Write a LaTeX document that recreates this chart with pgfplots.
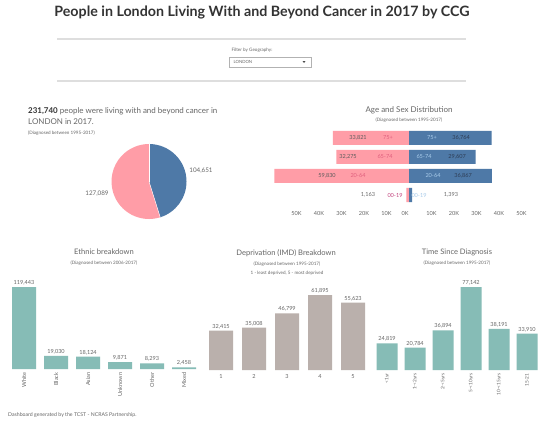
\documentclass[border=0pt]{standalone}
\usepackage{pgfplots}
\pgfplotsset{compat=1.18}
\usepackage{fontspec}
\setmainfont{Lato}
\definecolor{tteal}{HTML}{86BCB6}
\definecolor{depgray}{HTML}{BAB0AC}
\definecolor{tpink}{HTML}{FF9DA7}
\definecolor{tblue}{HTML}{4E79A7}
\definecolor{txt}{HTML}{666666}
\definecolor{ttl}{HTML}{333333}
\definecolor{pinklab}{HTML}{E0607E}
\definecolor{bluelab}{HTML}{A8CBEA}
\definecolor{bluenum}{HTML}{2E3D55}
\pgfplotsset{
  barchart/.style={
    scale only axis, ybar, clip=false,
    axis line style={draw=none}, ytick=\empty, xtick=data,
    major tick length=0pt, enlargelimits=false, ymin=0,
    nodes near coords,
    every node near coord/.append style={font=\fontsize{5.6}{6}\selectfont, text=txt, inner sep=1.5bp},
    /pgf/number format/.cd, fixed, precision=0, 1000 sep={,}, assume math mode=true,
    /pgfplots/.cd,
    xticklabel style={font=\fontsize{5.6}{6}\selectfont, text=txt},
  }
}
\begin{document}
\begin{tikzpicture}[x=1bp,y=1bp]
\useasboundingbox (0,0) rectangle (549,430);
\fill[white] (0,0) rectangle (549,430);
% title
\node[text=ttl, font=\fontsize{14.3}{16}\selectfont\bfseries] at (262,418) {People in London Living With and Beyond Cancer in 2017 by CCG};
\draw[black!13, line width=1.2bp] (57,391) -- (466,391);
\draw[black!13, line width=1.2bp] (57,349) -- (466,349);
\node[anchor=west, text=txt, font=\fontsize{4.6}{5}\selectfont] at (228,380) {Filter by Geography:};
\draw[black!30, line width=0.5bp] (229,373) rectangle (311,363);
\node[anchor=west, text=txt, font=\fontsize{4.3}{5}\selectfont] at (230,368) {LONDON};
\fill[black!70] (302.5,369) -- (305.5,369) -- (304,367) -- cycle;

% summary text
\node[anchor=west, text=txt, font=\fontsize{8}{9}\selectfont, inner sep=0] at (28,319) {\textbf{\color{ttl}231,740} people were living with and beyond cancer in};
\node[anchor=west, text=txt, font=\fontsize{8}{9}\selectfont, inner sep=0] at (28,308.5) {LONDON in 2017.};
\node[anchor=west, text=txt, font=\fontsize{4.6}{5}\selectfont, inner sep=0] at (28,297) {(Diagnosed between 1995-2017)};

% pie
\pgfmathsetmacro{\blueang}{104.651/(104.651+127.089)*360}
\begin{axis}[at={(149bp,248.5bp)}, anchor=center, scale only axis, width=75bp, height=75bp, hide axis, xmin=-1,xmax=1,ymin=-1,ymax=1, clip=false]
\fill[tblue] (axis cs:0,0) -- ++(90:37.5bp) arc[start angle=90, delta angle=-\blueang, radius=37.5bp] -- cycle;
\fill[tpink] (axis cs:0,0) -- ++(90-\blueang:37.5bp) arc[start angle=90-\blueang, end angle=-270, radius=37.5bp] -- cycle;
\draw[white, line width=0.4bp] (axis cs:0,0) -- ++(90:37.5bp);
\draw[white, line width=0.4bp] (axis cs:0,0) -- ++(90-\blueang:37.5bp);
\end{axis}
\node[text=txt, font=\fontsize{6.3}{7}\selectfont] at (201,259) {104,651};
\node[text=txt, font=\fontsize{6.3}{7}\selectfont] at (97,236) {127,089};

% age and sex
\node[text=txt, font=\fontsize{8}{9}\selectfont] at (409,320) {Age and Sex Distribution};
\node[text=txt, font=\fontsize{4.6}{5}\selectfont] at (409,309.5) {(Diagnosed between 1995-2017)};
\begin{axis}[at={(409bp,225.5bp)}, anchor=south, scale only axis, width=279bp, height=76bp,
  xbar, bar width=14bp, bar shift=0pt, clip=false,
  xmin=-62000, xmax=62000, ymin=-0.5, ymax=3.5,
  axis line style={draw=none}, ytick=\empty, major tick length=0pt,
  scaled x ticks=false,
  xtick={-50000,-40000,-30000,-20000,-10000,10000,20000,30000,40000,50000},
  xticklabels={50K,40K,30K,20K,10K,10K,20K,30K,40K,50K},
  extra x ticks={0}, extra x tick labels={0K},
  extra x tick style={xticklabel style={xshift=-4bp}},
  xticklabel style={font=\fontsize{5.6}{6}\selectfont, text=txt, yshift=-3bp}]
\addplot[fill=tpink, draw=none] coordinates {(-1163,0) (-59830,1) (-32275,2) (-33821,3)};
\addplot[fill=tblue, draw=none] coordinates {(1393,0) (36867,1) (29607,2) (36764,3)};
\begin{scope}[every node/.style={font=\fontsize{5.6}{6}\selectfont}]
\node[text=ttl!80] at (axis cs:-22667,3) {33,821};
\node[text=ttl!80] at (axis cs:-27111,2) {32,275};
\node[text=ttl!80] at (axis cs:-36444,1) {59,830};
\node[text=txt] at (axis cs:-18222,0) {1,163};
\node[text=pinklab] at (axis cs:-9333,3) {75+};
\node[text=pinklab] at (axis cs:-10667,2) {65-74};
\node[text=pinklab] at (axis cs:-22667,1) {20-64};
\node[text=pinklab!70!violet] at (axis cs:-6222,0) {00-19};
\node[text=bluelab] at (axis cs:10222,3) {75+};
\node[text=bluelab] at (axis cs:6667,2) {65-74};
\node[text=bluelab] at (axis cs:10667,1) {20-64};
\node[text=bluelab] at (axis cs:4444,0) {00-19};
\node[text=bluenum] at (axis cs:23111,3) {36,764};
\node[text=bluenum] at (axis cs:21333,2) {29,607};
\node[text=bluenum] at (axis cs:24000,1) {36,867};
\node[text=txt] at (axis cs:18667,0) {1,393};
\end{scope}
\end{axis}

% ethnic
\node[text=txt, font=\fontsize{7.6}{9}\selectfont] at (104,178) {Ethnic breakdown};
\node[text=txt, font=\fontsize{4.6}{5}\selectfont] at (104,166.5) {(Diagnosed between 2006-2017)};
\begin{axis}[barchart, at={(8bp,61bp)}, anchor=south west, width=192bp, height=90bp,
  bar width=24bp, xmin=-0.5, xmax=5.5, ymax=131096,
  xticklabels={White,Black,Asian,Unknown,Other,Mixed},
  xticklabel style={rotate=90, anchor=east}]
\addplot[fill=tteal, draw=none] coordinates {(0,119443) (1,19030) (2,18124) (3,9871) (4,8293) (5,2458)};
\end{axis}

% deprivation
\node[text=txt, font=\fontsize{7.6}{9}\selectfont] at (286,177) {Deprivation (IMD) Breakdown};
\node[text=txt, font=\fontsize{4.6}{5}\selectfont] at (287,166) {(Diagnosed between 1995-2017)};
\node[text=txt, font=\fontsize{4.6}{5}\selectfont] at (287,157) {1 - least deprived, 5 - most deprived};
\begin{axis}[barchart, at={(204.5bp,60bp)}, anchor=south west, width=165bp, height=85bp,
  bar width=24bp, xmin=0.5, xmax=5.5, ymax=70148,
  xticklabels={1,2,3,4,5}, xticklabel style={yshift=-1bp}]
\addplot[fill=depgray, draw=none] coordinates {(1,32415) (2,35008) (3,46799) (4,61895) (5,55623)};
\end{axis}

% time since diagnosis
\node[text=txt, font=\fontsize{7.6}{9}\selectfont] at (457,178) {Time Since Diagnosis};
\node[text=txt, font=\fontsize{4.6}{5}\selectfont] at (457,166.5) {(Diagnosed between 1995-2017)};
\begin{axis}[barchart, at={(373bp,60bp)}, anchor=south west, width=168bp, height=90bp,
  bar width=21bp, xmin=-0.5, xmax=5.5, ymax=83648,
  xticklabels={<1yr,1-<2yrs,2-<5yrs,5-<10yrs,10-<15yrs,15-21},
  xticklabel style={rotate=90, anchor=east, font=\fontsize{4.8}{5}\selectfont}]
\addplot[fill=tteal, draw=none] coordinates {(0,24819) (1,20784) (2,36894) (3,77142) (4,38191) (5,33910)};
\end{axis}

\node[anchor=west, text=txt, font=\fontsize{5.2}{6}\selectfont, inner sep=0] at (8,15) {Dashboard generated by the TCST - NCRAS Partnership.};
\end{tikzpicture}
\end{document}
